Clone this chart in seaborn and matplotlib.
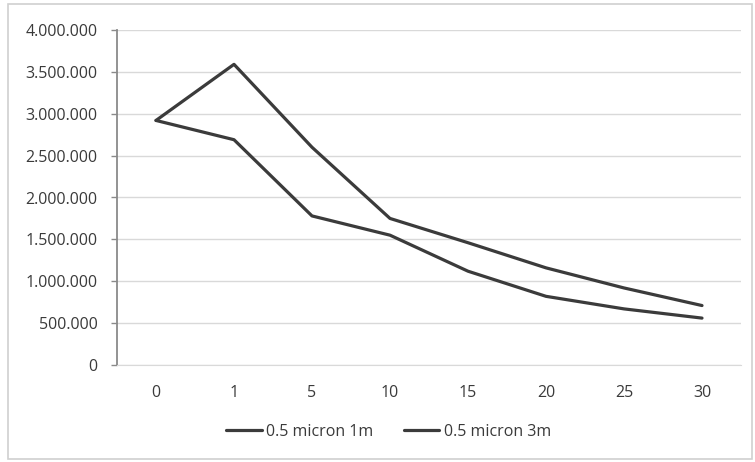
import pandas as pd
import seaborn as sns
import matplotlib.pyplot as plt
from matplotlib.ticker import FuncFormatter, MultipleLocator
from matplotlib.patches import Rectangle

# values
days = ["0", "1", "5", "10", "15", "20", "25", "30"]
micron_1m = [2920000, 3590000, 2600000, 1750000, 1460000, 1160000, 920000, 710000]
micron_3m = [2920000, 2690000, 1780000, 1550000, 1120000, 820000, 670000, 560000]
series_names = ["0.5 micron 1m", "0.5 micron 3m"]

df = pd.concat([
    pd.DataFrame({"day": days, "count": micron_1m, "series": series_names[0]}),
    pd.DataFrame({"day": days, "count": micron_3m, "series": series_names[1]}),
])

sns.set_style("white")
plt.rcParams["font.family"] = ["Open Sans", "DejaVu Sans"]
text_col = "#3a3a3a"
fs = 11.5

fig = plt.figure(figsize=(7.55, 4.62), dpi=100)
ax = fig.add_axes([117 / 755, 97 / 462, 624 / 755, 335 / 462])

sns.lineplot(data=df, x="day", y="count", hue="series", sort=False,
             palette=["#3b3b3b", "#3b3b3b"], linewidth=2.3, ax=ax)

ax.set_xlim(-0.5, len(days) - 0.5)
ax.set_ylim(0, 4000000)
ax.yaxis.set_major_locator(MultipleLocator(500000))
ax.yaxis.set_major_formatter(FuncFormatter(lambda v, p: f"{int(v):,}".replace(",", ".")))
ax.grid(axis="y", color="#d9d9d9", linewidth=1)
ax.set_axisbelow(True)
ax.set_xlabel("")
ax.set_ylabel("")

for s in ["top", "right"]:
    ax.spines[s].set_visible(False)
ax.spines["left"].set_color("#8a8a8a")
ax.spines["left"].set_linewidth(1.3)
ax.spines["bottom"].set_color("#d9d9d9")
ax.tick_params(axis="y", left=True, length=4, width=1, color="#8a8a8a",
               labelsize=fs, labelcolor=text_col, pad=10)
ax.tick_params(axis="x", bottom=False, labelsize=fs, labelcolor=text_col, pad=11)

ax.legend(title=None, loc="center", bbox_to_anchor=(0.515, 30 / 462),
          bbox_transform=fig.transFigure, ncol=2, frameon=False,
          fontsize=fs, labelcolor=text_col, handlelength=2.2,
          handletextpad=0.3, columnspacing=1.9)

# chart area border
fig.patches.append(Rectangle((8 / 755, 3 / 462), 744 / 755, 455 / 462,
                             transform=fig.transFigure, fill=False,
                             edgecolor="#d0d0d0", linewidth=1.2))

fig.savefig("out.png", dpi=100)
